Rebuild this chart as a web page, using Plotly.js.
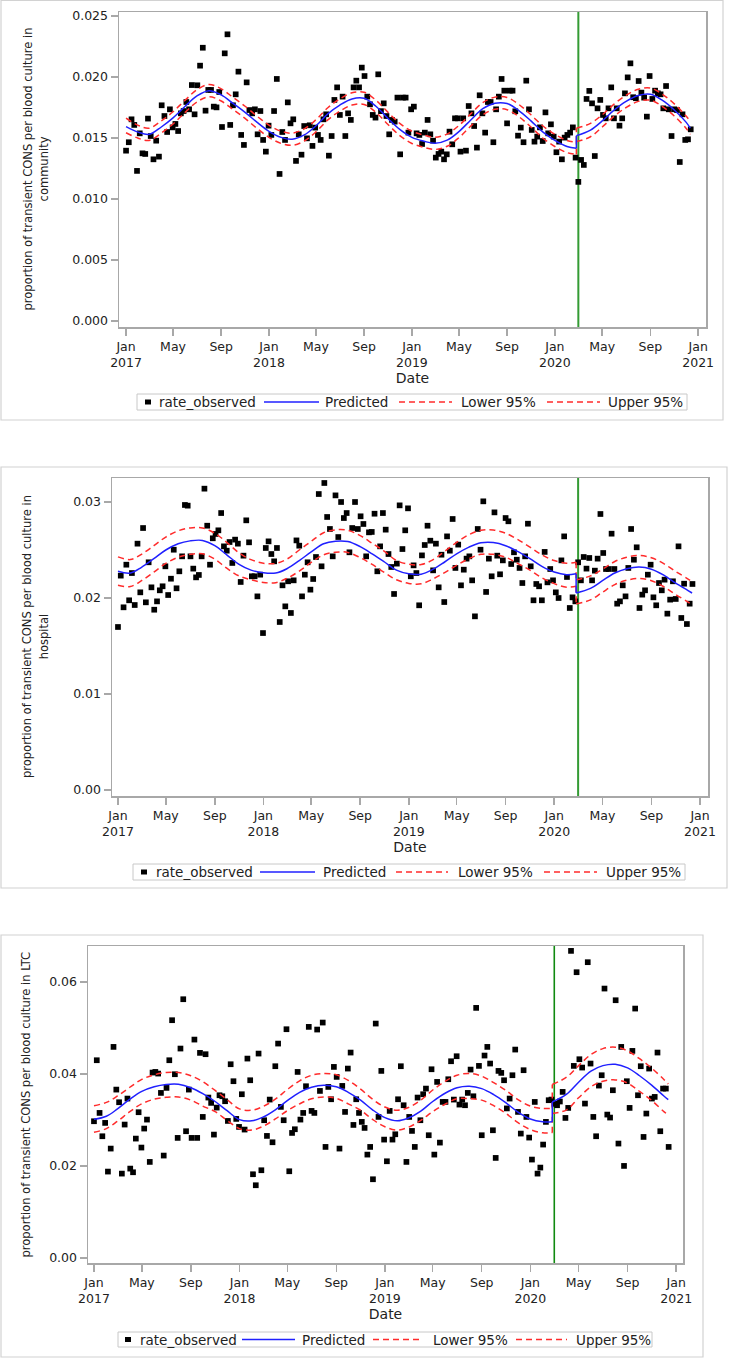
<!DOCTYPE html>
<html><head><meta charset="utf-8">
<script src="https://cdn.plot.ly/plotly-3.0.1.min.js"></script>
<style>html,body{margin:0;padding:0;background:#fff}#chart{width:729px;height:1358px}</style>
</head><body><div id="chart"></div>
<script>
// ---------------- data ----------------
const startDate = '2017-01-01';          // first weekly observation
const interventionDate = '2020-03-01';   // vertical reference line

const xTickVals = ['2017-01-01','2017-05-01','2017-09-01','2018-01-01','2018-05-01','2018-09-01',
  '2019-01-01','2019-05-01','2019-09-01','2020-01-01','2020-05-01','2020-09-01','2021-01-01'];
const xTickText = ['Jan<br>2017','May','Sep','Jan<br>2018','May','Sep','Jan<br>2019','May','Sep',
  'Jan<br>2020','May','Sep','Jan<br>2021'];

const communityObserved = [
.01396,.01465,.01653,.01607,.01230,.01538,.01374,.01369,.01659,.01516,
.01325,.01478,.01347,.01768,.01680,.01549,.01735,.01587,.01615,.01557,
.01702,.01721,.01795,.01735,.01934,.01694,.01932,.02093,.02240,.01724,
.01894,.01894,.01757,.01751,.01877,.01590,.02194,.02350,.01607,.01768,
.01858,.02044,.01525,.01443,.01956,.01729,.01702,.01735,.01530,.01721,
.01484,.01388,.01601,.01525,.01721,.01984,.01205,.01549,.01484,.01792,
.01620,.01653,.01312,.01530,.01363,.01598,.01497,.01604,.01435,.01585,
.01525,.01484,.01653,.01694,.01355,.01516,.01812,.01915,.01689,.01839,
.01516,.01702,.01648,.01915,.01970,.01915,.02077,.02008,.01839,
.01776,.01689,.01667,.02022,.01720,.01784,.01680,.01530,.01648,.01634,
.01831,.01366,.01831,.01831,.01544,.01735,.01757,.01538,.01525,.01451,
.01544,.01648,.01530,.01478,.01339,.01369,.01388,.01325,.01366,.01552,
.01448,.01661,.01661,.01388,.01661,.01396,.01762,.01702,.01598,.01421,
.01850,.01702,.01544,.01795,.01795,.01465,.01735,.01839,.01984,.01888,
.01620,.01888,.01888,.01719,.01519,.01585,.01465,.01970,.01735,.01566,
.01470,.01511,.01587,.01475,.01710,.01538,.01612,.01511,.01383,.01470,
.01325,.01503,.01525,.01544,.01587,.01339,.01140,.01320,.01279,.01820,
.01886,.01784,.01352,.01743,.01812,.01689,.01661,.01743,.01915,.01661,
.01743,.01601,.01661,.01866,.01997,.02112,.01834,.01826,.01967,.01872,
.01831,.01675,.02008,.01820,.01888,.01866,.01858,.01743,.01926,.01735,
.01516,.01735,.01729,.01303,.01694,.01484,.01489,.01571];

const hospitalObserved = [
.01698,.02233,.01903,.02347,.01976,.0226,.01927,.02566,.02059,.02729,
.01955,.02372,.02111,.01878,.01965,.0208,.02122,.0233,.02031,.02201,
.02503,.02101,.02278,.02434,.02969,.02962,.02434,.02306,.02215,.0224,
.02434,.03139,.02753,.02347,.02622,.02667,.02705,.02885,.02538,.02493,
.02583,.02365,.02608,.02566,.02167,.02441,.02809,.0258,.02226,.02226,
.02017,.02243,.01635,.02521,.0259,.02458,.02382,.02521,.0175,.02132,
.01913,.02174,.01844,.02184,.026,.02545,.02017,.02243,.02372,.02087,
.02198,.02427,.03083,.0233,.03198,.02844,.02719,.02434,.03069,.02635,
.03,.02833,.02885,.02476,.02729,.03,.02719,.02851,.02771,.02434,
.02684,
.02688,.02878,.02278,.02538,.02885,.02712,.02458,.02323,.02042,.02358,
.02965,.0251,.02705,.02934,.02226,.0234,.0226,.01924,.02444,.02552,
.02753,.02597,.02288,.02566,.02111,.02451,.01958,.02642,.02493,.02823,
.02313,.02556,.02132,.02295,.0241,.02434,.02184,.01809,.02719,.02503,
.03007,.02063,.0241,.02226,.02892,.02441,.02247,.02392,.02833,.02799,
.02354,.02476,.02399,.02313,.02156,.02434,.02774,.0233,.01976,.02146,
.02122,.01976,.0248,.02163,.02302,.02184,.02059,.02,.02392,.02642,
.02219,.01896,.02007,.01965,.02372,.02184,.02427,.02306,.02417,.02184,
.02285,.0241,.02875,.02469,.02302,.02302,.0267,.02302,.01941,.01965,
.02132,.02017,.02313,.02719,.02399,.02528,.01896,.02035,.0208,.02243,
.02347,.02007,.01924,.02156,.0208,.02191,.01837,.01983,.02174,.0199,
.02538,.01792,.02149,.01729,.01941,.02146];

const ltcObserved = [
.02971,.04297,.03152,.02645,.02935,.01877,.02377,.04587,.03659,.03384,
.01833,.02899,.03464,.01942,.01862,.02594,.03167,.02399,.02812,.03007,
.02087,.04029,.04043,.04007,.03587,.02225,.03696,.04297,.05167,.03993,
.02609,.04551,.05623,.02754,.03659,.02609,.04746,.02609,.04457,.03065,
.04428,.03486,.0337,.02681,.03268,.03536,.03514,.03406,.02978,.0421,
.03841,.03022,.02848,.03558,.0279,.04333,.03862,.01819,.0158,.04442,
.01906,.02993,.02652,.03442,.02514,.04167,.04659,.03283,.02993,.04971,
.01884,.02717,.02797,.04043,.03007,.03152,.03732,.05022,.03196,.03152,
.04964,.0363,.05116,.02413,.03717,.03449,.04152,.03935,.02377,.03739,
.03174,.04116,.04464,.02891,.03449,.03152,.02957,.02826,.02246,.02413,
.0171,.05094,.03065,.04065,.02572,.02101,.03196,.02572,.02688,.03449,
.04167,.03319,.02087,.03065,.02761,.02413,.03486,.02993,.03558,.03681,
.02667,.04101,.02246,.03826,.02507,.03391,.03391,.03884,.04275,.03442,
.04384,.03333,.03442,.03319,.03587,.04094,.03514,.05435,.04174,.02667,
.04399,.04587,.04225,.02775,.02174,.04065,.04022,.03862,.0325,.03464,
.03971,.04529,.03174,.02703,.0408,.03065,.02616,.02138,.03391,.01833,
.01964,.02464,.02957,.03428,.03442,.0335,.03319,.034,.03609,.03043,
.03261,.06674,.04174,.0621,.04319,.04138,.03355,.06428,.04225,.03065,
.02645,.03746,.03971,.05855,.03116,.03051,.03645,.05601,.02486,.04587,
.02,.03841,.03261,.045,.0542,.03536,.04167,.0263,.03138,.04116,
.03464,.035,.04464,.02754,.03681,.03681,.02413];

// model fit (predicted and 95% limits) sampled monthly; segment break before the reference line
const fitDatesPre = ['2017-01-01','2017-02-01','2017-03-01','2017-04-01','2017-05-01','2017-06-01',
  '2017-07-01','2017-08-01','2017-09-01','2017-10-01','2017-11-01','2017-12-01',
  '2018-01-01','2018-02-01','2018-03-01','2018-04-01','2018-05-01','2018-06-01',
  '2018-07-01','2018-08-01','2018-09-01','2018-10-01','2018-11-01','2018-12-01',
  '2019-01-01','2019-02-01','2019-03-01','2019-04-01','2019-05-01','2019-06-01',
  '2019-07-01','2019-08-01','2019-09-01','2019-10-01','2019-11-01','2019-12-01',
  '2020-01-01','2020-02-01','2020-02-25'];
const fitDatesPost = ['2020-02-25','2020-04-01','2020-05-01','2020-06-01','2020-07-01','2020-08-01',
  '2020-09-01','2020-10-01','2020-11-01','2020-12-01','2020-12-12'];

const communityPredPre = [.01593,.01548,.0153,.0159,.01665,.0176,.01845,.01888,.01853,.01784,
 .0171,.0163,.01555,.01505,.0149,.01525,.016,.017,.0177,.0182,
 .01825,.0176,.0166,.0157,.01505,.01473,.01456,.01482,.01552,.0165,
 .0174,.01785,.01782,.01725,.0164,.0155,.0148,.0143,.01415];
const communityUpperPre = [.01663,.01603,.0158,.0164,.01715,.0181,.01895,.01938,.01903,.01834,
 .0176,.0168,.01605,.01555,.0154,.01575,.0165,.0175,.0182,.0187,
 .01875,.0181,.0171,.0162,.01555,.01523,.01506,.01532,.01602,.017,
 .0179,.01835,.01832,.01775,.0169,.016,.0153,.0148,.01465];
const communityLowerPre = [.01543,.01498,.0148,.0154,.01615,.0171,.01795,.01838,.01803,.01734,
 .0166,.0158,.01505,.01455,.0144,.01475,.0155,.0165,.0172,.0177,
 .01775,.0171,.0161,.0152,.01455,.01423,.01406,.01432,.01502,.016,
 .0169,.01735,.01732,.01675,.0159,.015,.0143,.0138,.01365];
const communityPredPost  = [.01519,.01565,.0164,.0173,.018,.01848,.01858,.0181,.0173,.0163,.0158];
const communityUpperPost = [.0158,.0162,.0169,.0178,.0185,.0190,.0191,.0186,.0178,.0168,.01635];
const communityLowerPost = [.0147,.0151,.0159,.0168,.0175,.0180,.0181,.0176,.0168,.0158,.0153];

const hospitalPredPre = [.02278,.0226,.0232,.0241,.025,.02565,.02595,.026,.02545,.0245,
 .0235,.0229,.02262,.0226,.02305,.0239,.0248,.02565,.02592,.02588,
 .02535,.0246,.02375,.0229,.02252,.02248,.02295,.02375,.0246,.0253,
 .02575,.02578,.02545,.02485,.0241,.0233,.0227,.02243,.02253];
const hospitalUpperPre = [.02428,.024,.02455,.02545,.02635,.027,.0273,.0273,.02675,.0258,
 .0247,.024,.02362,.0236,.02405,.025,.0259,.0268,.0271,.02705,
 .0265,.0257,.02485,.0239,.02352,.02348,.02395,.02485,.0258,.0266,
 .02705,.02708,.02675,.0261,.0253,.0245,.0239,.02363,.02373];
const hospitalLowerPre = [.02132,.0212,.0218,.0227,.0236,.02425,.02455,.0246,.02405,.0231,
 .0223,.0219,.02162,.0216,.02205,.0228,.0237,.0245,.02477,.02475,
 .0242,.0235,.02265,.0219,.02152,.02148,.02195,.02265,.0234,.0241,
 .02455,.02455,.02425,.0236,.0229,.0221,.0215,.02113,.02123];
const hospitalPredPost  = [.02052,.021,.0218,.0226,.02305,.02323,.023,.0224,.02156,.0208,.02052];
const hospitalUpperPost = [.0219,.0223,.023,.0238,.02425,.02443,.0242,.0236,.02276,.022,.02172];
const hospitalLowerPost = [.0194,.0198,.0206,.0214,.02185,.02203,.0218,.0212,.02036,.0196,.01932];

const ltcPredPre = [.03014,.0308,.0324,.0345,.0362,.0372,.0377,.03775,.037,.0357,
 .034,.032,.03007,.0298,.0306,.0322,.0342,.036,.0371,.03754,
 .0372,.036,.0343,.0322,.0305,.0298,.0304,.0319,.034,.0358,
 .037,.03732,.0368,.0355,.0337,.0317,.0302,.0296,.0296];
const ltcUpperPre = [.0331,.0338,.0352,.0371,.0388,.0398,.0403,.0403,.0396,.0383,
 .0364,.0344,.0324,.0321,.0329,.0345,.0366,.0385,.0397,.0401,
 .0398,.0386,.0367,.0345,.0328,.0321,.0327,.0343,.0365,.0384,
 .0397,.0401,.0395,.0381,.0364,.0344,.033,.0325,.0325];
const ltcLowerPre = [.0273,.0281,.0297,.0318,.0335,.0345,.0349,.035,.0343,.033,
 .0318,.0299,.0281,.0278,.0286,.0302,.032,.0335,.0346,.035,
 .0347,.0335,.0321,.0301,.0285,.0278,.0284,.0299,.0318,.0334,
 .0346,.0346,.0343,.0331,.0314,.0294,.0279,.0272,.0272];
const ltcPredPost  = [.0339,.0356,.0382,.0406,.0418,.0421,.0413,.0396,.0375,.0352,.0344];
const ltcUpperPost = [.0377,.0393,.0418,.0442,.0455,.0458,.045,.0433,.0412,.0388,.0378];
const ltcLowerPost = [.0314,.0322,.0348,.0372,.0384,.0387,.038,.0362,.0342,.0318,.0311];

const yTitles = ['proportion of transient CONS per blood culture in<br>community',
                 'proportion of transient CONS per blood culture in<br>hospital',
                 'proportion of transient CONS per blood culture in LTC'];
const legendLabels = ['rate_observed','Predicted','Lower 95%','Upper 95%'];

// ---------------- layout geometry (pixels) ----------------
const W = 729, H = 1358;
const px = v => v / W;
const py = v => 1 - v / H;

const panels = [
  {obs: communityObserved, fit: [communityPredPre, communityLowerPre, communityUpperPre, communityPredPost, communityLowerPost, communityUpperPost],
   plot:[119,706,12,327], frame:[1,723,0.5,420], xr:['2016-12-14','2021-01-21'], yr:[-0.0005,0.02533],
   yt:[0,0.005,0.01,0.015,0.02,0.025], yf:'.3f', green:'#349b34', gw:2, ytitle:[35,169.5],
   leg:{box:[137,687,394,410], mk:148, t1:159, l:[264,319], t2:325, d1:[399,452], t3:461, d2:[547,600], t4:608}},
  {obs: hospitalObserved, fit: [hospitalPredPre, hospitalLowerPre, hospitalUpperPre, hospitalPredPost, hospitalLowerPost, hospitalUpperPost],
   plot:[112,708,478,796], frame:[1,727,467,888], xr:['2016-12-17','2021-01-21'], yr:[-0.000625,0.0325],
   yt:[0,0.01,0.02,0.03], yf:'.2f', green:'#349b34', gw:2, ytitle:[35,637],
   leg:{box:[133,685,864,880], mk:144, t1:156, l:[260,315], t2:323, d1:[396,448], t3:458, d2:[544,597], t4:606}},
  {obs: ltcObserved, fit: [ltcPredPre, ltcLowerPre, ltcUpperPre, ltcPredPost, ltcLowerPost, ltcUpperPost],
   plot:[88,683,946,1263], frame:[1,703,935,1357], xr:['2016-12-17','2021-01-18'], yr:[-0.0011,0.0678],
   yt:[0,0.02,0.04,0.06], yf:'.2f', green:'#108a10', gw:1.6, ytitle:[25,1104.5],
   leg:{box:[118,652,1332,1347], mk:128, t1:140, l:[242,295], t2:302, d1:[373,423], t3:433, d2:[516,567], t4:576}}
];

function weeklyDates(start, n) {
  const t0 = Date.parse(start + 'T00:00:00Z'), out = [];
  for (let i = 0; i < n; i++) out.push(new Date(t0 + i * 7 * 86400000).toISOString().slice(0, 10));
  return out;
}

const tickFont = {family:'DejaVu Sans, Verdana, sans-serif', size:12.5, color:'#222'};
const axisLine = {showline:true, mirror:true, linecolor:'#a8a8a8', linewidth:1.5, ticks:'outside',
  ticklen:7, tickwidth:1.5, tickcolor:'#a8a8a8', showgrid:false, zeroline:false, tickfont:tickFont};

const predLine = {color:'#2020ff', width:1.5};
const bandLine = {color:'#ff2b2b', width:1.5, dash:'6px,4px'};

const traces = [], shapes = [], annotations = [];
const layout = {width:W, height:H, margin:{l:0,r:0,t:0,b:0}, paper_bgcolor:'#fff', plot_bgcolor:'#fff',
  showlegend:false, font:tickFont, hovermode:'closest'};

panels.forEach((p, i) => {
  const k = i === 0 ? '' : String(i + 1);
  const xa = 'x' + k, ya = 'y' + k;
  layout['xaxis' + k] = Object.assign({}, axisLine, {type:'date', anchor:ya,
    domain:[px(p.plot[0]), px(p.plot[1])], range:p.xr, tickmode:'array', tickvals:xTickVals, ticktext:xTickText,
    title:{text:'Date', font:{family:'DejaVu Sans, sans-serif', size:14, color:'#222'}, standoff:4}});
  layout['yaxis' + k] = Object.assign({}, axisLine, {anchor:xa,
    domain:[py(p.plot[3]), py(p.plot[2])], range:p.yr, tickmode:'array', tickvals:p.yt, tickformat:p.yf});

  traces.push({type:'scatter', mode:'markers', name:legendLabels[0], xaxis:xa, yaxis:ya,
    x:weeklyDates(startDate, p.obs.length), y:p.obs,
    marker:{symbol:'square', size:5.7, color:'#000', line:{width:0}}});

  const [predPre, lowPre, upPre, predPost, lowPost, upPost] = p.fit;
  [[lowPre, lowPost, bandLine, legendLabels[2]], [upPre, upPost, bandLine, legendLabels[3]],
   [predPre, predPost, predLine, legendLabels[1]]].forEach(([pre, post, ln, nm]) => {
    traces.push({type:'scatter', mode:'lines', name:nm, xaxis:xa, yaxis:ya, x:fitDatesPre, y:pre,
      line:Object.assign({shape:'spline', smoothing:1}, ln)});
    traces.push({type:'scatter', mode:'lines', name:nm, xaxis:xa, yaxis:ya,
      x:[fitDatesPre[fitDatesPre.length - 1], fitDatesPost[0]], y:[pre[pre.length - 1], post[0]], line:ln});
    traces.push({type:'scatter', mode:'lines', name:nm, xaxis:xa, yaxis:ya, x:fitDatesPost, y:post,
      line:Object.assign({shape:'spline', smoothing:1}, ln)});
  });

  // reference line
  shapes.push({type:'line', xref:xa, yref:ya + ' domain', x0:interventionDate, x1:interventionDate, y0:0, y1:1,
    line:{color:p.green, width:p.gw}, layer:'below'});
  // outer panel frame
  shapes.push({type:'rect', xref:'paper', yref:'paper', x0:px(p.frame[0]), x1:px(p.frame[1]),
    y0:py(p.frame[3]), y1:py(p.frame[2]), line:{color:'#d2d2d2', width:1.2}, fillcolor:'rgba(0,0,0,0)'});
  // y title
  annotations.push({xref:'paper', yref:'paper', x:px(p.ytitle[0]), y:py(p.ytitle[1]), xanchor:'center', yanchor:'middle',
    text:yTitles[i], textangle:-90, showarrow:false,
    font:{family:'DejaVu Sans Condensed, Liberation Sans Narrow, sans-serif', size:12.8, color:'#222'}});
  // legend
  const L = p.leg, cy = (L.box[2] + L.box[3]) / 2;
  shapes.push({type:'rect', xref:'paper', yref:'paper', x0:px(L.box[0]), x1:px(L.box[1]), y0:py(L.box[3]), y1:py(L.box[2]),
    line:{color:'#c8c8c8', width:1}, fillcolor:'#fff'});
  shapes.push({type:'rect', xref:'paper', yref:'paper', x0:px(L.mk - 3), x1:px(L.mk + 3), y0:py(cy + 2.5), y1:py(cy - 2.5),
    line:{width:0}, fillcolor:'#000'});
  shapes.push({type:'line', xref:'paper', yref:'paper', x0:px(L.l[0]), x1:px(L.l[1]), y0:py(cy), y1:py(cy), line:predLine});
  shapes.push({type:'line', xref:'paper', yref:'paper', x0:px(L.d1[0]), x1:px(L.d1[1]), y0:py(cy), y1:py(cy), line:bandLine});
  shapes.push({type:'line', xref:'paper', yref:'paper', x0:px(L.d2[0]), x1:px(L.d2[1]), y0:py(cy), y1:py(cy), line:bandLine});
  [[L.t1, 0], [L.t2, 1], [L.t3, 2], [L.t4, 3]].forEach(([tx, j]) => {
    annotations.push({xref:'paper', yref:'paper', x:px(tx - 2), y:py(cy), xanchor:'left', yanchor:'middle',
      text:legendLabels[j], showarrow:false, font:{family:'DejaVu Sans, sans-serif', size:13.5, color:'#222'}});
  });
});

layout.shapes = shapes;
layout.annotations = annotations;
Plotly.newPlot('chart', traces, layout, {staticPlot:true, displayModeBar:false});
</script></body></html>
